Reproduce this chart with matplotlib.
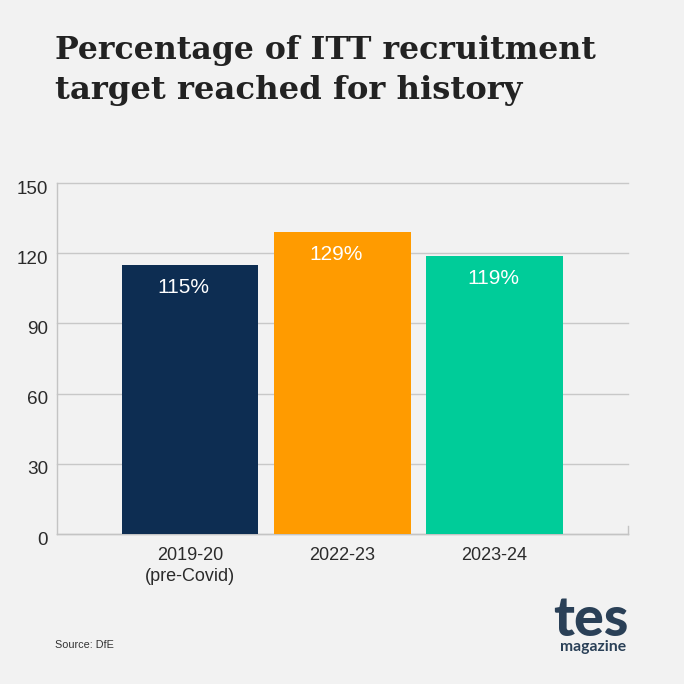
import matplotlib
matplotlib.use("Agg")
import matplotlib.pyplot as plt
from matplotlib.transforms import ScaledTranslation

categories = ["2019-20\n(pre-Covid)", "2022-23", "2023-24"]
values = [115, 129, 119]
labels = ["115%", "129%", "119%"]
colors = ["#0D2D52", "#FF9B00", "#00CC99"]
yticks = [0, 30, 60, 90, 120, 150]

BG = "#F2F2F2"
W = H = 684
fig = plt.figure(figsize=(6.84, 6.84), dpi=100, facecolor=BG)
ax = fig.add_axes([57/W, 1-534/H, (628-57)/W, (534-183)/H], facecolor=BG)
pos = list(range(len(values)))
ax.bar(pos, values, width=0.897, color=colors, zorder=3)
ax.set_xlim(-0.873, 2.876)
ax.set_ylim(0, 150)
ax.set_yticks(yticks)
ax.set_xticks(pos)
ax.set_xticklabels(categories, fontsize=13, family="Liberation Sans", color="#2b2b2b", linespacing=1.3)
ax.tick_params(axis="x", length=0, pad=9.5)
ax.tick_params(axis="y", length=0, pad=6.5)
shift = ScaledTranslation(0, -3/72, fig.dpi_scale_trans)
for t in ax.get_yticklabels():
    t.set_fontsize(13.6); t.set_family("Liberation Sans"); t.set_color("#2b2b2b")
    t.set_transform(t.get_transform() + shift)
ax.grid(axis="y", color="#C8C8C8", lw=1, zorder=0)
ax.yaxis.grid(True, clip_on=False)
for s in ["top", "right"]:
    ax.spines[s].set_visible(False)
for s in ["left", "bottom"]:
    ax.spines[s].set_color("#C4C4C4"); ax.spines[s].set_linewidth(1)
ax.plot([1, 1], [0, 8/351], transform=ax.transAxes, color="#C4C4C4", lw=1, clip_on=False)

label_dx = [-5, -4.5, -0.7]
for p, v, l, dx in zip(pos, values, labels, label_dx):
    ax.annotate(l, (p, v), xytext=(dx, -9.5), textcoords="offset points", ha="center", va="top",
                color="white", fontsize=15, family="Liberation Sans", zorder=4)

fig.text(55/W, 1-51/H, "Percentage of ITT recruitment", fontsize=22.8, fontweight="bold",
         family="DejaVu Serif", color="#222222", va="center", ha="left")
fig.text(55/W, 1-90/H, "target reached for history", fontsize=23.2, fontweight="bold",
         family="DejaVu Serif", color="#222222", va="center", ha="left")
fig.text(55/W, 1-645.5/H, "Source: DfE", fontsize=7.8, family="Liberation Sans", color="#333333", va="center")
fig.text(591/W, 1-636/H, "tes", fontsize=40, fontweight=900, family="Lato", color="#2A4057", va="baseline", ha="center")
fig.text(593/W, 1-651/H, "magazine", fontsize=11.3, fontweight="bold", family="Lato", color="#2A4057", va="baseline", ha="center")
fig.savefig("out.png", dpi=100, facecolor=BG)
